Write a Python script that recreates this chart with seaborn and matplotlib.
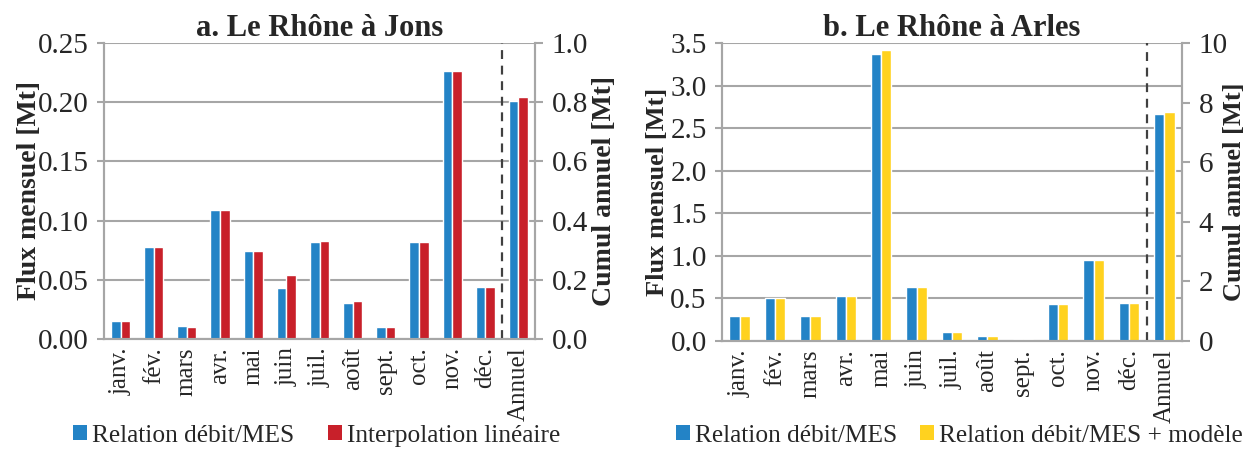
import matplotlib
matplotlib.use("Agg")
import matplotlib.pyplot as plt
import seaborn as sns
import pandas as pd
import numpy as np
from matplotlib.patches import Patch

sns.set_theme(style="white")
plt.rcParams['font.family'] = ['Liberation Serif', 'DejaVu Serif']

months = ["janv.", "fév.", "mars", "avr.", "mai", "juin", "juil.", "août",
          "sept.", "oct.", "nov.", "déc."]
annual_label = "Annuel"
order = months + [annual_label]

# Panel a: Le Rhône à Jons (monthly Mt, annual cumul Mt)
jons_series = ["Relation débit/MES", "Interpolation linéaire"]
jons_rel = [0.015, 0.078, 0.011, 0.109, 0.074, 0.043, 0.082, 0.030, 0.010, 0.082, 0.226, 0.044]
jons_int = [0.015, 0.078, 0.010, 0.109, 0.074, 0.054, 0.083, 0.032, 0.010, 0.082, 0.226, 0.044]
jons_annual = [0.804, 0.818]

# Panel b: Le Rhône à Arles
arles_series = ["Relation débit/MES", "Relation débit/MES + modèle"]
arles_rel = [0.29, 0.50, 0.29, 0.53, 3.37, 0.63, 0.10, 0.06, 0.025, 0.44, 0.95, 0.45]
arles_mod = [0.29, 0.50, 0.29, 0.53, 3.42, 0.63, 0.10, 0.06, 0.025, 0.44, 0.95, 0.45]
arles_annual = [7.63, 7.70]

BLUE = "#2383C6"
RED = "#C8202A"
YELLOW = "#FFD21F"
GRAY = "#A6A6A6"

fig = plt.figure(figsize=(12.51, 4.49), dpi=100)
axL = fig.add_axes([104/1251, 110/449, 431/1251, 296/449])
axR = fig.add_axes([722/1251, 108/449, 460/1251, 298/449])


def panel(ax, series, s1, s2, annual, colors, ylim, yticks, yfmt, ylim2, yticks2, yfmt2,
          title, lab_l, lab_r, lab_size, legend_x, colspace):
    dfm = pd.DataFrame({"mois": months * 2,
                        "serie": [series[0]] * 12 + [series[1]] * 12,
                        "val": list(s1) + list(s2)})
    dfa = pd.DataFrame({"mois": [annual_label] * 2, "serie": series, "val": annual})
    pal = dict(zip(series, colors))
    ax2 = ax.twinx()
    sns.barplot(data=dfm, x="mois", y="val", hue="serie", order=order,
                hue_order=series, palette=pal, width=0.58, gap=0, ax=ax,
                saturation=1, legend=False, errorbar=None)
    sns.barplot(data=dfa, x="mois", y="val", hue="serie", order=order,
                hue_order=series, palette=pal, width=0.58, gap=0, ax=ax2,
                saturation=1, legend=False, errorbar=None)
    for a in (ax, ax2):
        a.set_xlim(-0.5, 12.5)
        a.set_xlabel("")
        a.set_ylabel("")
    ax.set_ylim(*ylim)
    ax.set_yticks(yticks)
    ax.set_yticklabels([yfmt.format(v) for v in yticks])
    ax2.set_ylim(*ylim2)
    ax2.set_yticks(yticks2)
    ax2.set_yticklabels([yfmt2.format(v) for v in yticks2])
    ax.grid(axis="y", color=GRAY, lw=1.5)
    ax.set_axisbelow(True)
    ax2.grid(False)
    # x ticks at boundaries, labels at centres
    ax.set_xticks(np.arange(-0.5, 13, 1))
    ax.set_xticklabels([])
    ax.set_xticks(np.arange(13), minor=True)
    ax.set_xticklabels(order, minor=True, rotation=90, fontsize=18)
    ax.tick_params(axis="x", which="major", length=7, width=1.5, color=GRAY, direction="out", bottom=True)
    ax.tick_params(axis="x", which="minor", length=0, pad=6, bottom=True)
    ax.tick_params(axis="y", length=5, width=1.5, color=GRAY, labelsize=21, pad=6, left=True)
    ax2.tick_params(axis="y", length=6, width=1.5, color=GRAY, labelsize=21, pad=6, right=True)
    ax2.set_xticks([])
    for a in (ax, ax2):
        for side, sp in a.spines.items():
            sp.set_color(GRAY)
            sp.set_linewidth(1.5)
        a.spines["top"].set_visible(False)
    ax.axvline(11.5, color="#404040", lw=1.6, ls=(0, (4, 3)), zorder=5)
    ax.set_title(title, fontsize=22, fontweight="bold", pad=4)
    ax.set_ylabel(lab_l, fontsize=lab_size, fontweight="bold")
    ax2.set_ylabel(lab_r, fontsize=lab_size, fontweight="bold")
    handles = [Patch(facecolor=c, edgecolor="none", label=s) for s, c in zip(series, colors)]
    fig.legend(handles=handles, loc="center", bbox_to_anchor=(legend_x, 0.03), ncol=2,
               frameon=False, fontsize=18.3, handlelength=0.55, handleheight=0.55,
               handletextpad=0.2, columnspacing=colspace, borderpad=0)
    return ax2


axL2 = panel(axL, jons_series, jons_rel, jons_int, jons_annual, [BLUE, RED],
             (0, 0.25), [0, 0.05, 0.10, 0.15, 0.20, 0.25], "{:.2f}",
             (0, 1.0), [0, 0.2, 0.4, 0.6, 0.8, 1.0], "{:.1f}",
             "a. Le Rhône à Jons", "Flux mensuel [Mt]", "Cumul annuel [Mt]", 20,
             0.253, 1.3)
axR2 = panel(axR, arles_series, arles_rel, arles_mod, arles_annual, [BLUE, YELLOW],
             (0, 3.5), [0, 0.5, 1.0, 1.5, 2.0, 2.5, 3.0, 3.5], "{:.1f}",
             (0, 10), [0, 2, 4, 6, 8, 10], "{:.0f}",
             "b. Le Rhône à Arles", "Flux mensuel [Mt]", "Cumul annuel [Mt]", 19,
             0.767, 0.9)

axL.yaxis.set_label_coords(-0.143, 0.5)
axL2.yaxis.set_label_coords(1.132, 0.5)
axR.yaxis.set_label_coords(-0.116, 0.5)
axR2.yaxis.set_label_coords(1.09, 0.5)

fig.savefig("out.png", dpi=100)
